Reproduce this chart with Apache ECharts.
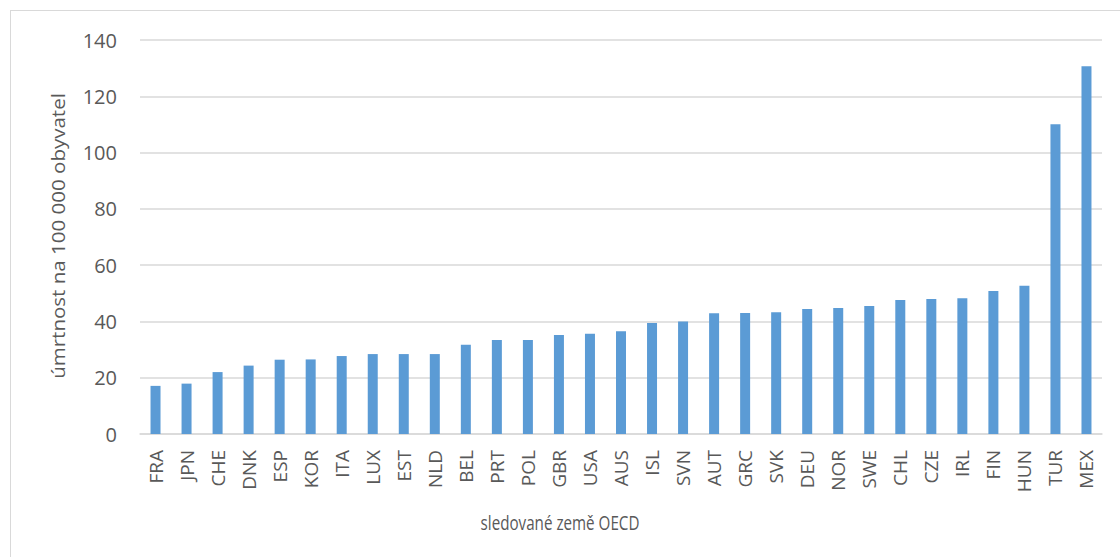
<!DOCTYPE html>
<html>
<head>
<meta charset="utf-8">
<script src="https://cdn.jsdelivr.net/npm/echarts@6/dist/echarts.min.js"></script>
<style>
  html, body { margin: 0; padding: 0; width: 1120px; height: 557px; overflow: hidden; background: #fff; }
  #frame { position: absolute; left: 10px; top: 10px; width: 1200px; height: 700px; border: 1px solid #d9d9d9; box-sizing: border-box; }
  #chart { position: absolute; left: 0; top: 0; width: 1120px; height: 557px; }
</style>
</head>
<body>
<div id="frame"></div>
<div id="chart"></div>
<script>
// OECD countries, sorted by mortality
const countries = ['FRA','JPN','CHE','DNK','ESP','KOR','ITA','LUX','EST','NLD','BEL','PRT','POL','GBR','USA','AUS','ISL','SVN','AUT','GRC','SVK','DEU','NOR','SWE','CHL','CZE','IRL','FIN','HUN','TUR','MEX'];
// mortality per 100 000 inhabitants
const mortality = [17.1, 17.9, 22.0, 24.3, 26.4, 26.5, 27.7, 28.4, 28.4, 28.4, 31.7, 33.4, 33.4, 35.2, 35.6, 36.5, 39.4, 40.0, 42.9, 43.0, 43.3, 44.4, 44.8, 45.5, 47.6, 48.0, 48.2, 50.8, 52.7, 110.1, 130.7];
const yTicks = { min: 0, max: 140, interval: 20 };
const yTitle = 'úmrtnost na 100 000 obyvatel';
const xTitle = 'sledované země OECD';

const labelColor = '#595959';
const font = '"Open Sans", "Noto Sans", sans-serif';

const chart = echarts.init(document.getElementById('chart'), null, { renderer: 'svg' });
chart.setOption({
  animation: false,
  grid: { left: 140, right: 18, top: 40, bottom: 123 },
  xAxis: {
    type: 'category',
    data: countries,
    axisLine: { lineStyle: { color: '#d9d9d9', width: 1.5 } },
    axisTick: { show: false },
    axisLabel: {
      rotate: 90, margin: 16, color: labelColor,
      fontFamily: font, fontSize: 19, interval: 0
    }
  },
  yAxis: {
    type: 'value',
    min: yTicks.min, max: yTicks.max, interval: yTicks.interval,
    axisLine: { show: false },
    axisTick: { show: false },
    splitLine: { lineStyle: { color: '#d9d9d9', width: 1.5 } },
    axisLabel: { margin: 23, color: labelColor, fontFamily: font, fontSize: 20 }
  },
  graphic: [
    {
      type: 'text',
      x: 58, y: 236, rotation: Math.PI / 2,
      scaleX: 1.08,
      style: {
        text: yTitle, fill: labelColor, font: '19px ' + font,
        align: 'center', verticalAlign: 'middle'
      }
    },
    {
      type: 'text',
      x: 560, y: 522,
      scaleX: 0.76,
      style: {
        text: xTitle, fill: labelColor, font: '20px ' + font,
        align: 'center', verticalAlign: 'middle'
      }
    }
  ],
  series: [{
    type: 'bar',
    data: mortality,
    barWidth: 10,
    itemStyle: { color: '#5b9bd5' }
  }]
});
</script>
</body>
</html>
